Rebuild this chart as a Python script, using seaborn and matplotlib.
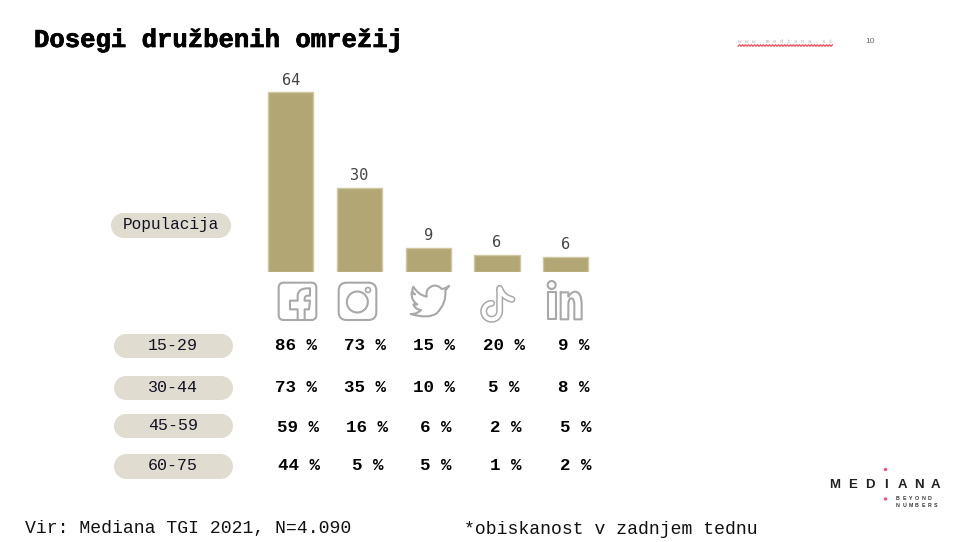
import numpy as np
import matplotlib
matplotlib.use('Agg')
import matplotlib.pyplot as plt
import matplotlib.patheffects as pe
import seaborn as sns
from matplotlib.patches import FancyBboxPatch, Circle, PathPatch, Rectangle
from matplotlib.path import Path

platforms = ['Facebook', 'Instagram', 'Twitter', 'TikTok', 'LinkedIn']
population = [64, 30, 8.7, 6.2, 5.5]
age_groups = ['15-29', '30-44', '45-59', '60-75']
age_15_29 = [86, 73, 15, 20, 9]
age_30_44 = [73, 35, 10, 5, 8]
age_45_59 = [59, 16, 6, 2, 5]
age_60_75 = [44, 5, 5, 1, 2]

BAR = '#b3a675'
PILL = '#e0ddd0'
ICON = '#a8a8a8'
MONO = 'Liberation Mono'

sns.set_style('white')
fig = plt.figure(figsize=(9.64, 5.42), dpi=100)

# bars, baseline at y=272 px and 2.8125 px per unit
ax = fig.add_axes([256.4 / 964, (542 - 272) / 542, 343.75 / 964, 212 / 542])
sns.barplot(x=platforms, y=population, ax=ax, color=BAR, saturation=1, width=0.66,
            edgecolor='#cfc79f', linewidth=1)
ax.set_xlim(-0.5, 4.5)
ax.set_ylim(0, 212 / 2.8125)
ax.bar_label(ax.containers[0], fmt='%.0f', padding=3, fontsize=11, color='#444444',
             family='DejaVu Sans Mono')
ax.axis('off')

# everything else in pixel coordinates
ov = fig.add_axes([0, 0, 1, 1])
ov.set_xlim(0, 964)
ov.set_ylim(542, 0)
ov.axis('off')
ov.patch.set_alpha(0)

ov.text(34, 40, 'Dosegi družbenih omrežij', family=MONO, fontweight='bold', fontsize=18.45,
        va='center', color='black',
        path_effects=[pe.withStroke(linewidth=0.5, foreground='black')])
ov.text(25, 529, 'Vir: Mediana TGI 2021, N=4.090', family=MONO, fontsize=13.1, va='center', color='#111111')
ov.text(464, 529, '*obiskanost v zadnjem tednu', family=MONO, fontsize=13.1, va='center', color='#111111')


def pill(x0, x1, y0, y1, label, size):
    h = y1 - y0
    ov.add_patch(Rectangle((x0 + h / 2, y0), x1 - x0 - h, h, fc=PILL, ec='none'))
    ov.add_patch(Circle((x0 + h / 2, (y0 + y1) / 2), h / 2, fc=PILL, ec='none'))
    ov.add_patch(Circle((x1 - h / 2, (y0 + y1) / 2), h / 2, fc=PILL, ec='none'))
    ov.text((x0 + x1) / 2 - 0.5, (y0 + y1) / 2 - 0.5, label, family=MONO, fontsize=size,
            ha='center', va='center', color='#111122')


pill(111, 231, 213, 238, 'Populacija', 11.6)
pill_rows = [(334, 358), (376, 400), (414, 438), (454, 479)]
for (y0, y1), label in zip(pill_rows, age_groups):
    pill(114, 233, y0, y1, label, 12)

# percentage table, right edge of each cell
rows = [age_15_29, age_30_44, age_45_59, age_60_75]
row_y = [345, 387, 427, 466]
right_edges = [[317, 386, 455, 525, 589],
               [317, 386, 455, 519, 589],
               [319, 388, 451, 521, 591],
               [320, 383, 452, 521, 591]]
for vals, y, edges in zip(rows, row_y, right_edges):
    for v, x in zip(vals, edges):
        ov.text(x, y, f'{v} %', family=MONO, fontweight='bold', fontsize=12.6,
                ha='right', va='center', color='black')


def z(x, y):
    return 250 + x / 3, 60 + y / 3


def stroke(verts, codes=None, lw=1.5, color=ICON):
    pts = [z(*p) for p in verts]
    if codes is None:
        codes = [Path.MOVETO] + [Path.LINETO] * (len(pts) - 1)
    ov.add_patch(PathPatch(Path(pts, codes), fc='none', ec=color, lw=lw, capstyle='round',
                           joinstyle='round'))


def box(x0, y0, x1, y1, r):
    (a, b), (c, d) = z(x0, y0), z(x1, y1)
    ov.add_patch(FancyBboxPatch((a + r, b + r), c - a - 2 * r, d - b - 2 * r,
                                boxstyle=f'round,pad={r},rounding_size={r}',
                                fc='none', ec=ICON, lw=1.5))


C3, L, M = Path.CURVE3, Path.LINETO, Path.MOVETO

# facebook
box(86, 668, 199, 780, 5)
stroke([(143, 780), (143, 748), (120, 748), (120, 722), (143, 722), (143, 705), (146, 685),
        (172, 685), (180, 685), (180, 707), (172, 707), (164, 707), (164, 716), (164, 722),
        (180, 722), (177, 748), (164, 748), (164, 780)],
       [M, L, L, L, L, L, C3, C3, L, L, L, C3, C3, L, L, L, L, L])

# instagram
box(266, 668, 379, 780, 8)
ov.add_patch(Circle(z(322, 726), 10.5, fc='none', ec=ICON, lw=1.5))
ov.add_patch(Circle(z(354, 690), 2.5, fc='none', ec=ICON, lw=1.2))

# twitter
stroke([(597, 678), (586, 692), (590, 730), (560, 760), (535, 778), (482, 762), (500, 763),
        (513, 750), (495, 748), (490, 733), (495, 735), (502, 733), (483, 722), (485, 697),
        (490, 702), (495, 703), (482, 695), (490, 680), (505, 705), (530, 710), (525, 685),
        (550, 677), (565, 675), (575, 687), (587, 686), (593, 680), (597, 678)],
       [M, L, C3, C3, C3, C3, C3, C3, C3, C3, C3, C3, C3, C3, C3, C3, C3, C3, C3, C3, C3, C3,
        C3, C3, C3, C3, L])

# tiktok, wide grey stroke with a white core gives the outline
t = np.radians(np.arange(270, -1, -15))
ring = list(zip(725 + 24 * np.cos(t), 754 + 24 * np.sin(t)))
note = ring + [(749, 685), (758, 712), (786, 718)]
note_codes = [M] + [L] * (len(ring) - 1) + [L, C3, C3]
stroke(note, note_codes, lw=5.0, color='#a8a8a8')
stroke(note, note_codes, lw=2.8, color='white')

# linkedin
ov.add_patch(Circle(z(905, 675), 4, fc='none', ec=ICON, lw=1.5))
stroke([(894, 696), (917, 696), (917, 778), (894, 778), (894, 696)])
stroke([(932, 697), (955, 697), (955, 710), (965, 695), (975, 695), (995, 695), (995, 735),
        (995, 778), (973, 778), (973, 735), (973, 715), (964, 715), (955, 715), (955, 735),
        (955, 778), (932, 778), (932, 697)],
       [M, L, L, C3, C3, C3, C3, L, L, L, C3, C3, C3, C3, L, L, L])

# header bits
ov.text(738, 41.5, 'w w w . m e d i a n a . s i', family=MONO, fontsize=4.2, color='#b8b8b8',
        ha='left', va='center')
xw = np.arange(738, 834, 1.5)
ov.plot(xw, 45.5 + 0.8 * (-1.0) ** np.arange(len(xw)), color='#ee4c55', lw=0.9)
ov.text(865, 41.5, '10', fontsize=6, color='#666666', family='Liberation Sans', va='center')

# logo
for ch, x in zip('MEDIANA', [835, 853, 870, 886, 902, 919, 935]):
    ov.text(x, 485, ch, family='Liberation Sans', fontweight='bold', fontsize=9.5,
            color='#222222', ha='center', va='center')
ov.add_patch(Circle((885.5, 469.5), 1.7, fc='#f0508c', ec='none'))
ov.add_patch(Circle((885.5, 499), 1.7, fc='#f0508c', ec='none'))
for word, y in zip(['BEYOND', 'NUMBERS'], [499, 505.5]):
    for i, ch in enumerate(word):
        ov.text(898 + 6.3 * i, y, ch, family='Liberation Sans', fontweight='bold', fontsize=3.8,
                color='#333333', ha='center', va='center')

fig.savefig('out.png', dpi=100, facecolor='white')
